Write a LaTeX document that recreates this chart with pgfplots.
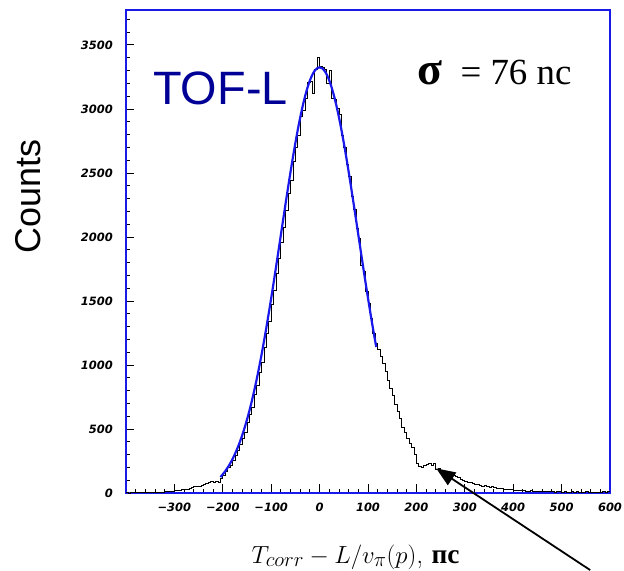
\documentclass[border=0pt]{standalone}
\usepackage{fontspec}
\usepackage{pgfplots}
\usepackage{pgfplotstable}
\usetikzlibrary{arrows.meta}
\pgfplotsset{compat=1.18}
\newfontfamily\tickfont{DejaVu Sans}
\newfontfamily\arialfont{Liberation Sans}
\newfontfamily\timesfont{Liberation Serif}
\definecolor{navy}{RGB}{0,0,150}
\definecolor{axblue}{RGB}{25,25,235}

\pgfplotstableread{
x y
-400 1
-395 0
-390 2
-385 1
-380 2
-375 1
-370 3
-365 2
-360 4
-355 3
-350 5
-345 4
-340 6
-335 5
-330 8
-325 7
-320 10
-315 12
-310 11
-305 15
-300 18
-295 17
-290 22
-285 25
-280 28
-275 31
-270 36
-265 42
-260 48
-255 55
-250 52
-245 60
-240 68
-235 72
-230 80
-225 88
-220 84
-215 92
-210 80
-205 112
-200 140
-195 165
-190 200
-185 215
-180 255
-175 292
-170 330
-165 380
-160 425
-155 470
-150 548
-145 612
-140 672
-135 768
-130 838
-125 940
-120 1020
-115 1138
-110 1245
-105 1340
-100 1470
-95 1580
-90 1712
-85 1830
-80 1960
-75 2075
-70 2210
-65 2340
-60 2445
-55 2590
-50 2700
-45 2790
-40 2940
-35 2990
-30 3080
-25 3210
-20 3215
-15 3120
-10 3310
-5 3400
0 3330
5 3325
10 3310
15 3200
20 3300
25 3085
30 3075
35 3005
40 2960
45 2790
50 2700
55 2570
60 2470
65 2320
70 2215
75 2065
80 1985
85 1780
90 1730
95 1575
100 1480
105 1365
110 1245
115 1165
120 1120
125 1070
130 1010
135 950
140 880
145 820
150 760
155 690
160 640
165 580
170 510
175 470
180 430
185 385
190 360
195 300
200 235
205 205
210 200
215 212
220 225
225 230
230 218
235 232
240 185
245 195
250 175
255 168
260 158
265 150
270 142
275 135
280 128
285 120
290 108
295 98
300 88
305 84
310 80
315 74
320 66
325 70
330 60
335 55
340 58
345 50
350 45
355 48
360 40
365 38
370 35
375 38
380 30
385 28
390 32
395 25
400 22
405 24
410 20
415 18
420 22
425 16
430 15
435 18
440 14
445 12
450 15
455 11
460 10
465 13
470 9
475 12
480 10
485 8
490 11
495 9
500 7
505 10
510 8
515 6
520 9
525 7
530 10
535 6
540 8
545 7
550 9
555 6
560 8
565 7
570 5
575 8
580 6
585 9
590 7
595 12
600 12
}\histdata

\pgfplotstableread{
x y
-205 124.7
-200 146.1
-195 170.5
-190 198.1
-185 229.4
-180 264.5
-175 303.9
-170 347.7
-165 396.3
-160 450.0
-155 508.9
-150 573.3
-145 643.3
-140 719.1
-135 800.7
-130 888.0
-125 981.0
-120 1079.5
-115 1183.3
-110 1292.0
-105 1405.2
-100 1522.3
-95 1642.7
-90 1765.8
-85 1890.8
-80 2016.7
-75 2142.6
-70 2267.5
-65 2390.2
-60 2509.8
-55 2625.1
-50 2735.1
-45 2838.5
-40 2934.3
-35 3021.5
-30 3099.2
-25 3166.5
-20 3222.7
-15 3267.1
-10 3299.1
-5 3318.5
0 3325.0
5 3318.5
10 3299.1
15 3267.1
20 3222.7
25 3166.5
30 3099.2
35 3021.5
40 2934.3
45 2838.5
50 2735.1
55 2625.1
60 2509.8
65 2390.2
70 2267.5
75 2142.6
80 2016.7
85 1890.8
90 1765.8
95 1642.7
100 1522.3
105 1405.2
110 1292.0
115 1183.3
117 1141.0
}\fitdata

\begin{document}
\begin{tikzpicture}
\path[use as bounding box] (-126bp,-78bp) rectangle (498bp,493bp);
\begin{axis}[
  at={(0,0)}, anchor=south west,
  scale only axis, width=484bp, height=483bp,
  xmin=-400, xmax=600, ymin=0, ymax=3773,
  axis line style={axblue, line width=1.6pt},
  tick align=inside,
  xtick pos=bottom, ytick pos=left,
  xtick={-300,-200,...,600},
  xticklabels={−300,−200,−100,0,100,200,300,400,500,600},
  ytick={0,500,...,3500},
  yticklabels={0,500,1000,1500,2000,2500,3000,3500},
  minor xtick={-380,-360,...,580},
  minor ytick={100,200,...,3700},
  major tick length=8.5bp, minor tick length=4.5bp,
  every tick/.style={black, line width=0.9pt},
  tick label style={font=\fontsize{11.5}{13}\selectfont\tickfont\bfseries\itshape, inner sep=0pt},
  xticklabel style={anchor=north, yshift=-10bp},
  yticklabel style={anchor=east, xshift=-13bp},
  /pgf/number format/assume math mode=true,
  clip=false,
]
\addplot[const plot, black, line width=0.8pt] table {\histdata};
\addplot[smooth, color=axblue, line width=2.2pt] table {\fitdata};
\draw[black, line width=1.8pt, -{Triangle[length=19bp, width=15bp]}] (axis cs:559,-602) -- (axis cs:241,192);
\end{axis}
\node[rotate=90, anchor=base, inner sep=0pt, font=\fontsize{36}{40}\selectfont\arialfont] at (-85bp,296.5bp) {Counts};
\node[anchor=base west, inner sep=0pt, text=navy, font=\fontsize{47}{52}\selectfont\arialfont] at (27bp,388bp) {TOF-L};
\node[anchor=base west, inner sep=0pt, font=\fontsize{37}{42}\selectfont\timesfont] at (291bp,408bp) {{\fontsize{46}{50}\selectfont\bfseries σ}\ \ = 76 nc};
\node[anchor=base, inner sep=0pt, font=\fontsize{27.5}{32}\selectfont] at (229.5bp,-70bp) {$T_{corr} - L/v_\pi(p)$, {\timesfont\bfseries пс}};
\end{tikzpicture}
\end{document}
